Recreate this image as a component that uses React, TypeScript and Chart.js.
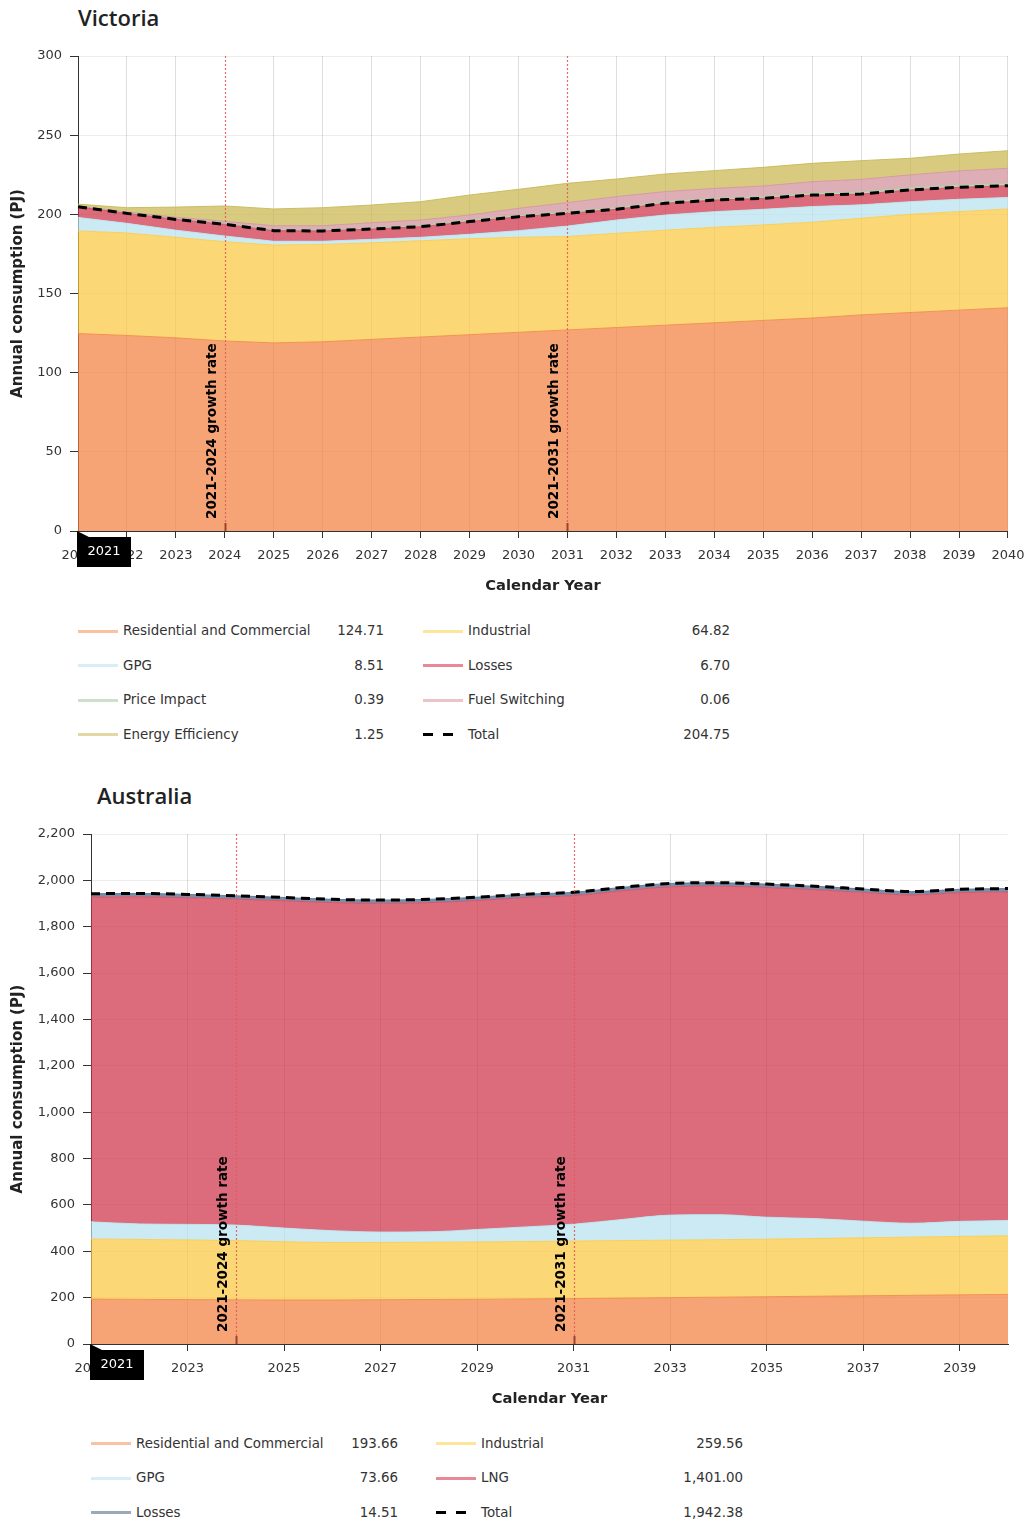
import React, { useEffect, useRef } from 'react';
import { Chart, registerables } from 'chart.js';

Chart.register(...registerables);
Chart.defaults.font.family = '"DejaVu Sans", Verdana, sans-serif';

// ---------------- DATA ----------------
const years = ['2021','2022','2023','2024','2025','2026','2027','2028','2029','2030','2031','2032','2033','2034','2035','2036','2037','2038','2039','2040'];

const vicTicksY = [0, 50, 100, 150, 200, 250, 300];
const vicResidential = [124.71,123.5,122,120,118.8,119.5,121,122.5,124,125.5,127,128.5,130,131.5,133,134.5,136.5,138,139.5,141];
const vicIndustrial = [64.82,64.7,63.5,62.7,61.8,61.5,61,60.8,60.6,60,59,59.5,60,60.3,60.3,60.5,61,62,62.2,62.4];
const vicGPG = [8.51,6.1,4.5,3.6,2.4,2.0,2.2,2.2,2.8,4.2,6.6,8.4,9.6,9.9,9.9,9.9,8.5,8.0,7.8,7.3];
const vicLosses = [6.70,6.3,6.8,7.4,6.7,6.5,6.5,6.7,8.0,8.8,8.0,6.8,7.4,7.3,6.9,7.3,6.8,7.4,7.6,7.4];
const vicPriceImpact = [0.39,0.5,0.6,0.7,0.8,0.8,0.9,0.9,1.0,1.0,1.1,1.1,1.2,1.2,1.3,1.3,1.4,1.4,1.5,1.5];
const vicFuelSwitching = [0.06,0.4,0.8,1.2,2.3,2.5,3.1,3.3,3.2,4.3,5.7,6.9,6.2,6.2,6.5,7.1,7.9,8.1,8.8,9.5];
const vicEnergyEfficiency = [1.25,2.7,6.4,9.7,10.6,11.4,11.2,11.6,12.6,12.0,12.2,11.1,11.1,11.2,11.8,11.6,11.8,10.5,10.7,11.1];
const vicTotal = [204.75,200.6,196.8,193.7,189.7,189.5,190.7,192.2,195.4,198.5,200.6,203.2,207.0,209.0,210.1,212.2,212.8,215.4,217.1,218.1];

const ausTicksY = [0,200,400,600,800,1000,1200,1400,1600,1800,2000,2200];
const ausResidential = [193.66,192.5,191.5,190.5,190,190,191,192,193,194.5,196,198,200,202,204,206,208,210,212,214];
const ausIndustrial = [259.56,258.5,257.5,255.5,251,248,247,247,247,247.5,248,248,248,248,248,249,250,251,252,253];
const ausGPG = [73.66,67,67,67,59,51,45,45,54,63,73,91,108,108,95,86,72,60,65,66];
const ausLNG = [1401.00,1411,1409,1406,1412,1415,1418,1420,1419,1421,1417,1418,1416,1417,1422,1419,1418,1416,1418,1417];
const ausLosses = [14.51,14.6,14.5,14.4,14.3,14.2,14.2,14.2,14.3,14.4,14.5,14.7,14.9,14.9,14.8,14.7,14.6,14.5,14.6,14.6];
const ausTotal = [1942.38,1943.6,1939.5,1933.4,1926.3,1918.2,1915.2,1918.2,1927.3,1940.4,1948.5,1969.7,1986.9,1989.9,1983.8,1974.7,1962.6,1951.5,1961.6,1964.6];

const growthMarkers = [
  { year: '2024', label: '2021-2024 growth rate' },
  { year: '2031', label: '2021-2031 growth rate' },
];

// ---------------- STYLES ----------------
const COL = {
  res: { fill: 'rgba(242,125,58,0.7)', line: 'rgba(244,140,75,0.9)', legend: '#F9C2A0' },
  ind: { fill: 'rgba(249,199,58,0.7)', line: 'rgba(250,205,80,0.9)', legend: '#FDE59C' },
  gpg: { fill: 'rgba(181,225,238,0.7)', line: 'rgba(190,228,240,0.9)', legend: '#D8EEF6' },
  loss: { fill: 'rgba(205,44,68,0.7)', line: 'rgba(215,80,100,0.9)', legend: '#E8899A' },
  price: { fill: 'rgba(169,198,155,0.7)', line: 'rgba(175,200,165,0.9)', legend: '#CFDFCE' },
  fuel: { fill: 'rgba(208,139,151,0.7)', line: 'rgba(212,150,160,0.9)', legend: '#EDC3CA' },
  ee: { fill: 'rgba(199,181,72,0.7)', line: 'rgba(200,185,90,0.9)', legend: '#E2D8A5' },
  lng: { fill: 'rgba(205,44,68,0.7)', line: 'rgba(215,80,100,0.9)', legend: '#E8899A' },
  ausLoss: { fill: 'rgba(62,99,136,0.7)', line: 'rgba(90,120,150,0.9)', legend: '#9AAABB' },
};

const fmt = new Intl.NumberFormat('en-US', { minimumFractionDigits: 2, maximumFractionDigits: 2 });
const markerIdx = growthMarkers.map((m) => years.indexOf(m.year));

const annotPlugin = {
  id: 'annot',
  afterDatasetsDraw(chart: any) {
    const { ctx, chartArea, scales } = chart;
    const x = scales.x;
    ctx.save();
    growthMarkers.forEach((m) => {
      const idx = years.indexOf(m.year);
      const px = Math.round(x.getPixelForValue(idx)) + 0.5;
      ctx.beginPath();
      ctx.setLineDash([2, 2]);
      ctx.strokeStyle = 'rgba(228,90,90,0.9)';
      ctx.lineWidth = 1.2;
      ctx.moveTo(px, chartArea.top);
      ctx.lineTo(px, chartArea.bottom);
      ctx.stroke();
      ctx.setLineDash([]);
      ctx.beginPath();
      ctx.strokeStyle = 'rgba(150,60,40,0.9)';
      ctx.lineWidth = 2;
      ctx.moveTo(px, chartArea.bottom - 8);
      ctx.lineTo(px, chartArea.bottom);
      ctx.stroke();
      ctx.save();
      ctx.translate(px - 13, chartArea.bottom - 12);
      ctx.rotate(-Math.PI / 2);
      ctx.font = 'bold 13.5px "DejaVu Sans"';
      ctx.fillStyle = '#000';
      ctx.textAlign = 'left';
      ctx.textBaseline = 'middle';
      ctx.fillText(m.label, 0, 0);
      ctx.restore();
    });
    ctx.restore();
  },
  afterDraw(chart: any) {
    const { ctx, chartArea } = chart;
    const x0 = chartArea.left;
    const y0 = chartArea.bottom;
    ctx.save();
    ctx.fillStyle = '#000';
    ctx.beginPath();
    ctx.moveTo(x0 - 1, y0);
    ctx.lineTo(x0 + 11, y0 + 6);
    ctx.lineTo(x0 + 53, y0 + 6);
    ctx.lineTo(x0 + 53, y0 + 36);
    ctx.lineTo(x0 - 1, y0 + 36);
    ctx.closePath();
    ctx.fill();
    ctx.fillStyle = '#fff';
    ctx.font = '13px "DejaVu Sans"';
    ctx.textAlign = 'center';
    ctx.textBaseline = 'middle';
    ctx.fillText(years[0], x0 + 26, y0 + 21);
    ctx.restore();
  },
};

function area(label: string, data: number[], c: any, first: boolean, smooth: boolean) {
  return {
    label,
    data,
    backgroundColor: c.fill,
    borderColor: c.line,
    borderWidth: 1,
    fill: first ? 'origin' : '-1',
    pointRadius: 0,
    pointHoverRadius: 0,
    tension: 0,
    cubicInterpolationMode: smooth ? 'monotone' : 'default',
  };
}

function totalSet(data: number[], smooth: boolean) {
  return {
    label: 'Total',
    data,
    stack: 'total',
    borderColor: '#000',
    borderWidth: 3,
    borderDash: [9, 6],
    fill: false,
    pointRadius: 0,
    pointHoverRadius: 0,
    order: -1,
    tension: 0,
    cubicInterpolationMode: smooth ? 'monotone' : 'default',
  };
}

function makeOptions(opts: { yWidth: number; padTop: number; max: number; step: number; everyOther: boolean }) {
  const { yWidth, padTop, max, step, everyOther } = opts;
  const shown = (i: number) => !everyOther || i % 2 === 0;
  return {
    responsive: false,
    animation: false,
    events: [],
    layout: { padding: { top: padTop, right: 26, left: 0, bottom: 0 } },
    plugins: { legend: { display: false }, tooltip: { enabled: false }, title: { display: false } },
    scales: {
      x: {
        type: 'category',
        offset: false,
        afterFit: (s: any) => { s.height = 69; },
        grid: {
          color: (c: any) => (shown(c.index) && markerIdx.indexOf(c.index) < 0 ? 'rgba(0,0,0,0.13)' : 'rgba(0,0,0,0)'),
          tickColor: (c: any) => (shown(c.index) ? '#333' : 'rgba(0,0,0,0)'),
          tickLength: 7,
          lineWidth: 1,
        },
        border: { display: true, color: '#333', width: 1 },
        ticks: {
          autoSkip: false,
          maxRotation: 0,
          padding: 9.5,
          color: '#333',
          font: { size: 13 },
          callback: (v: any, i: number) => (shown(i) ? years[i] : ''),
        },
        title: {
          display: true,
          text: 'Calendar Year',
          color: '#222',
          font: { size: 14.7, weight: 'bold' },
          padding: { top: 0, bottom: 5 },
        },
      },
      y: {
        stacked: true,
        min: 0,
        max,
        afterFit: (s: any) => { s.width = yWidth; },
        grid: { color: 'rgba(0,0,0,0.07)', tickColor: '#333', tickLength: 8 },
        border: { display: true, color: '#333', width: 1 },
        ticks: { stepSize: step, padding: 8, color: '#333', font: { size: 13 } },
        title: {
          display: true,
          text: 'Annual consumption (PJ)',
          color: '#222',
          font: { size: 15, weight: 'bold' },
          padding: { top: 9, bottom: 0 },
        },
      },
    },
  };
}

function ChartCanvas({ config, width, height, top }: any) {
  const ref = useRef<HTMLCanvasElement | null>(null);
  useEffect(() => {
    if (!ref.current) return;
    const chart = new Chart(ref.current, config);
    return () => chart.destroy();
  }, []);
  return (
    <canvas
      ref={ref}
      width={width}
      height={height}
      style={{ position: 'absolute', left: 0, top, width, height, display: 'block' }}
    />
  );
}

function LegendItem({ x, lineW, valueRight, y, label, value, color, dashed }: any) {
  return (
    <>
      {dashed ? (
        <>
          <div style={{ position: 'absolute', left: x, top: y - 1.5, width: 10, height: 3, background: '#000' }} />
          <div style={{ position: 'absolute', left: x + 20, top: y - 1.5, width: 10, height: 3, background: '#000' }} />
        </>
      ) : (
        <div style={{ position: 'absolute', left: x, top: y - 1.5, width: lineW, height: 3, background: color }} />
      )}
      <div style={{ position: 'absolute', left: x + 45, top: y - 9, lineHeight: '18px', whiteSpace: 'nowrap' }}>{label}</div>
      <div style={{ position: 'absolute', left: valueRight - 120, width: 120, top: y - 9, lineHeight: '18px', textAlign: 'right' }}>
        {value}
      </div>
    </>
  );
}

export default function App() {
  const vicConfig = {
    type: 'line',
    data: {
      labels: years,
      datasets: [
        area('Residential and Commercial', vicResidential, COL.res, true, false),
        area('Industrial', vicIndustrial, COL.ind, false, false),
        area('GPG', vicGPG, COL.gpg, false, false),
        area('Losses', vicLosses, COL.loss, false, false),
        area('Price Impact', vicPriceImpact, COL.price, false, false),
        area('Fuel Switching', vicFuelSwitching, COL.fuel, false, false),
        area('Energy Efficiency', vicEnergyEfficiency, COL.ee, false, false),
        totalSet(vicTotal, false),
      ],
    },
    options: makeOptions({ yWidth: 78, padTop: 56, max: vicTicksY[vicTicksY.length - 1], step: vicTicksY[1] - vicTicksY[0], everyOther: false }),
    plugins: [annotPlugin],
  };

  const ausConfig = {
    type: 'line',
    data: {
      labels: years,
      datasets: [
        area('Residential and Commercial', ausResidential, COL.res, true, true),
        area('Industrial', ausIndustrial, COL.ind, false, true),
        area('GPG', ausGPG, COL.gpg, false, true),
        area('LNG', ausLNG, COL.lng, false, true),
        area('Losses', ausLosses, COL.ausLoss, false, true),
        totalSet(ausTotal, true),
      ],
    },
    options: makeOptions({ yWidth: 91, padTop: 54, max: ausTicksY[ausTicksY.length - 1], step: ausTicksY[1] - ausTicksY[0], everyOther: true }),
    plugins: [annotPlugin],
  };

  const vicLegend = [
    [{ label: 'Residential and Commercial', v: vicResidential[0], c: COL.res.legend }, { label: 'Industrial', v: vicIndustrial[0], c: COL.ind.legend }],
    [{ label: 'GPG', v: vicGPG[0], c: COL.gpg.legend }, { label: 'Losses', v: vicLosses[0], c: COL.loss.legend }],
    [{ label: 'Price Impact', v: vicPriceImpact[0], c: COL.price.legend }, { label: 'Fuel Switching', v: vicFuelSwitching[0], c: COL.fuel.legend }],
    [{ label: 'Energy Efficiency', v: vicEnergyEfficiency[0], c: COL.ee.legend }, { label: 'Total', v: vicTotal[0], c: '#000', dashed: true }],
  ];
  const ausLegend = [
    [{ label: 'Residential and Commercial', v: ausResidential[0], c: COL.res.legend }, { label: 'Industrial', v: ausIndustrial[0], c: COL.ind.legend }],
    [{ label: 'GPG', v: ausGPG[0], c: COL.gpg.legend }, { label: 'LNG', v: ausLNG[0], c: COL.lng.legend }],
    [{ label: 'Losses', v: ausLosses[0], c: COL.ausLoss.legend }, { label: 'Total', v: ausTotal[0], c: '#000', dashed: true }],
  ];

  const vicRowsY = [631, 665.5, 700, 734.5];
  const ausRowsY = [1443.5, 1478, 1512.5];

  return (
    <div
      style={{
        position: 'absolute',
        left: 0,
        top: 0,
        width: 1034,
        height: 1524,
        background: '#fff',
        fontFamily: '"DejaVu Sans", Verdana, sans-serif',
        fontSize: 13.4,
        color: '#333',
        overflow: 'hidden',
      }}
    >
      <div style={{ position: 'absolute', left: 78, top: 3, fontFamily: '"Open Sans", sans-serif', fontWeight: 600, fontSize: 22, lineHeight: '28px', color: '#222' }}>
        Victoria
      </div>
      <ChartCanvas config={vicConfig} width={1034} height={600} top={0} />
      {vicLegend.map((row, r) => (
        <React.Fragment key={'v' + r}>
          <LegendItem x={78} lineW={40} valueRight={384} y={vicRowsY[r]} label={row[0].label} value={fmt.format(row[0].v)} color={row[0].c} />
          <LegendItem x={423} lineW={40} valueRight={730} y={vicRowsY[r]} label={row[1].label} value={fmt.format(row[1].v)} color={row[1].c} dashed={(row[1] as any).dashed} />
        </React.Fragment>
      ))}

      <div style={{ position: 'absolute', left: 97, top: 781, fontFamily: '"Open Sans", sans-serif', fontWeight: 600, fontSize: 22, lineHeight: '28px', color: '#222' }}>
        Australia
      </div>
      <ChartCanvas config={ausConfig} width={1034} height={633} top={780} />
      {ausLegend.map((row, r) => (
        <React.Fragment key={'a' + r}>
          <LegendItem x={91} lineW={40} valueRight={398} y={ausRowsY[r]} label={row[0].label} value={fmt.format(row[0].v)} color={row[0].c} />
          <LegendItem x={436} lineW={40} valueRight={743} y={ausRowsY[r]} label={row[1].label} value={fmt.format(row[1].v)} color={row[1].c} dashed={(row[1] as any).dashed} />
        </React.Fragment>
      ))}
    </div>
  );
}
